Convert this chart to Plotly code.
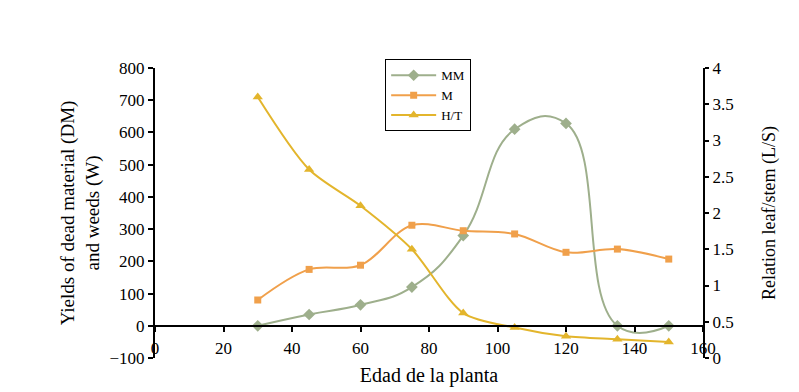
import plotly.graph_objects as go

edad = [30, 45, 60, 75, 90, 105, 120, 135, 150]
mm = [0, 35, 65, 120, 280, 610, 628, 0, 0]
m = [80, 175, 188, 312, 295, 285, 228, 238, 207]
ht = [3.6, 2.6, 2.1, 1.5, 0.62, 0.42, 0.3, 0.26, 0.22]

c_mm = "#9EAF8C"
c_m = "#F0A04B"
c_ht = "#E3B52C"
font = "Liberation Serif"

fig = go.Figure()
fig.add_trace(go.Scatter(x=edad, y=mm, name="MM", mode="lines+markers",
                         line=dict(color=c_mm, width=2, shape="spline", smoothing=1.3),
                         marker=dict(symbol="diamond", size=9, color=c_mm)))
fig.add_trace(go.Scatter(x=edad, y=m, name="M", mode="lines+markers",
                         line=dict(color=c_m, width=2, shape="spline", smoothing=1.0),
                         marker=dict(symbol="square", size=7, color=c_m)))
fig.add_trace(go.Scatter(x=edad, y=ht, name="H/T", mode="lines+markers", yaxis="y2",
                         line=dict(color=c_ht, width=2, shape="spline", smoothing=0.8),
                         marker=dict(symbol="triangle-up", size=9, color=c_ht)))

tickf = dict(family=font, size=17, color="black")

fig.update_layout(
    width=799, height=392,
    margin=dict(l=147, r=104, t=60, b=42),
    paper_bgcolor="white", plot_bgcolor="white",
    font=dict(family=font, size=17, color="black"),
    showlegend=True,
    legend=dict(x=0.42, y=1.03, xanchor="left", yanchor="top",
                bordercolor="black", borderwidth=1, bgcolor="white",
                font=dict(family=font, size=13, color="black"), tracegroupgap=0,
                itemwidth=45),
    xaxis=dict(range=[0, 160], dtick=20, anchor="free", position=1/9,
               showline=True, linecolor="black", linewidth=2,
               ticks="outside", ticklen=5, tickwidth=2, tickcolor="black",
               tickfont=tickf, ticklabelstandoff=2, showgrid=False, zeroline=False,
               title=dict(text="Edad de la planta",
                          font=dict(family=font, size=20, color="black"), standoff=10)),
    yaxis=dict(range=[-100, 800], dtick=100, showline=True, linecolor="black", linewidth=2,
               ticks="outside", ticklen=5, tickwidth=2, tickcolor="black",
               tickfont=tickf, showgrid=False, zeroline=False,
               title=dict(text="Yields of dead material (DM)<br>and weeds (W)",
                          font=dict(family=font, size=19, color="black"), standoff=5)),
    yaxis2=dict(range=[0, 4], dtick=0.5, overlaying="y", side="right",
                showline=True, linecolor="black", linewidth=2,
                ticks="outside", ticklen=4, tickwidth=2, tickcolor="black",
                tickfont=tickf, showgrid=False, zeroline=False,
                title=dict(text="Relation leaf/stem (L/S)",
                           font=dict(family=font, size=18, color="black"), standoff=30)),
)

fig.write_html("out.html")
